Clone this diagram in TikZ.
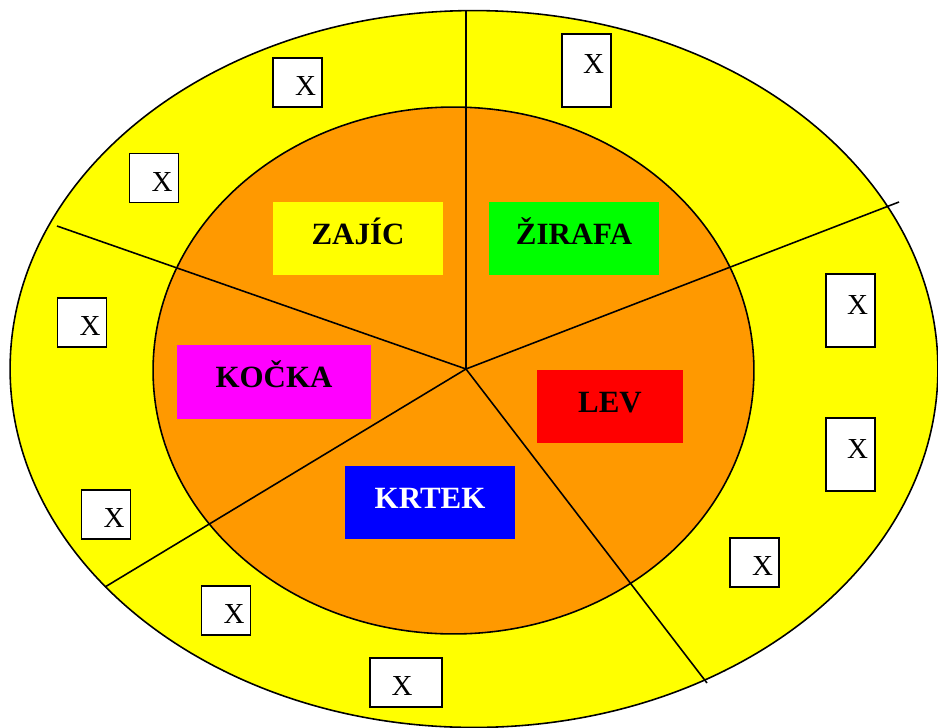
\documentclass[tikz,border=0pt]{standalone}
\usepackage{fontspec}
\setmainfont{Liberation Serif}
\usepackage{tikz}
\definecolor{pieorange}{HTML}{FF9900}
\definecolor{ringyellow}{HTML}{FFFF00}
\definecolor{zgreen}{HTML}{00FF00}
\definecolor{zred}{HTML}{FF0000}
\definecolor{zblue}{HTML}{0000FF}
\definecolor{zmagenta}{HTML}{FF00FF}

\begin{document}
\begin{tikzpicture}[
  x=0.02cm, y=-0.02cm,
  %--- shared styles ----------------------------------------------
  ring/.style={draw=black, line width=0.9pt},
  spoke/.style={draw=black, line width=0.9pt},
  animal/.style={
    rectangle, inner sep=0pt,
    minimum width=3.4cm, minimum height=1.46cm,
    text height=0.44cm, text depth=0.22cm,
    font=\fontsize{17.6pt}{20pt}\selectfont\bfseries
  },
  xbox/.style={
    rectangle, draw=black, fill=white, line width=0.8pt, inner sep=0pt,
    minimum width=0.98cm, minimum height=0.98cm
  },
  tallbox/.style={xbox, minimum height=1.46cm},
  widebox/.style={xbox, minimum width=1.44cm},
  xmark/.style={font=\fontsize{16.5pt}{18pt}\selectfont, inner sep=0pt},
]
\useasboundingbox (0,0) rectangle (938,728);

%% --- rings ------------------------------------------------------
\draw[ring, fill=ringyellow] (474,369) ellipse [x radius=9.28cm, y radius=7.17cm];
\draw[ring, fill=pieorange] (453.5,370.5) ellipse [x radius=6.01cm, y radius=5.27cm];

%% --- spokes -----------------------------------------------------
\coordinate (mid) at (466,369);
\coordinate (sn)  at (466,10);
\coordinate (sne) at (899,202);
\coordinate (sse) at (707,683);
\coordinate (ssw) at (105,587);
\coordinate (snw) at (57,226);
\foreach \s in {sn,sne,sse,ssw,snw}
  \draw[spoke] (mid) -- (\s);

%% --- animals (inner ring) ---------------------------------------
\node[animal, fill=ringyellow] (zajic)  at (358,238.5) {ZAJÍC};
\node[animal, fill=zgreen]     (zirafa) at (574,238.5) {ŽIRAFA};
\node[animal, fill=zmagenta, minimum width=3.88cm, minimum height=1.48cm]
  (kocka) at (274,382) {KOČKA};
\node[animal, fill=zred, minimum width=2.92cm] (lev) at (610,406.5) {LEV};
\node[animal, fill=zblue, text=white] (krtek) at (430,502.5) {KRTEK};

%% --- X boxes (outer ring) ---------------------------------------
\foreach \n/\p in {x1/{297.5,82.5}, x2/{154,178}, x3/{82,322.5},
                   x7/{754.5,562.5}, x8/{106,514.5}, x9/{226,610.5}}
  \node[xbox, label={[xmark, xshift=0.16cm, yshift=-0.08cm]center:X}]
    (\n) at (\p) {};
\foreach \n/\p in {x4/{586.5,70.5}, x5/{850.5,310.5}, x6/{850.5,454.5}}
  \node[tallbox, label={[xmark, xshift=0.14cm, yshift=0.12cm]center:X}]
    (\n) at (\p) {};
\node[widebox, label={[xmark, xshift=-0.08cm, yshift=-0.07cm]center:X}]
  (x10) at (406,682.5) {};

\end{tikzpicture}
\end{document}
